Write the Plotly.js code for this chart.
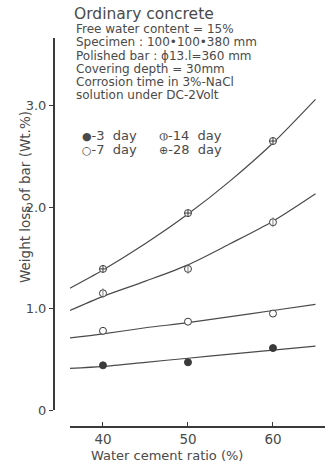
<!DOCTYPE html>
<html>
<head>
<meta charset="utf-8">
<script src="https://cdn.plot.ly/plotly-3.0.1.min.js"></script>
<style>html,body{margin:0;padding:0;background:#fff;}#chart{width:327px;height:463px;}</style>
</head>
<body>
<div id="chart"></div>
<script>
// Measured points
const waterCementRatio = [40, 50, 60];
const loss3day = [0.44, 0.47, 0.61];
const loss7day = [0.78, 0.87, 0.95];
const loss14day = [1.15, 1.39, 1.85];
const loss28day = [1.39, 1.94, 2.65];
// Fitted curves
const curveRatio = [36.1, 40, 45, 50, 55, 60, 65];
const curve3day = [0.41, 0.43, 0.47, 0.51, 0.55, 0.59, 0.63];
const curve7day = [0.71, 0.75, 0.81, 0.86, 0.92, 0.98, 1.04];
const curve14day = [0.98, 1.12, 1.27, 1.43, 1.64, 1.86, 2.13];
const curve28day = [1.20, 1.38, 1.64, 1.93, 2.26, 2.63, 3.06];
// Ticks
const xTickVals = [40, 50, 60];
const xTickText = ['40', '50', '60'];
const yTickVals = [0, 1, 2, 3];
const yTickText = ['0', '1.0', '2.0', '3.0'];
// Texts
const infoTitle = 'Ordinary concrete';
const infoLines = [
  'Free water content = 15%',
  'Specimen : 100•100•380 mm',
  'Polished bar : ϕ13.l=360 mm',
  'Covering depth = 30mm',
  'Corrosion time in 3%-NaCl',
  'solution under DC-2Volt'
];
const legendSymbols = ['●', '○', '⦶', '⊕'];
const legendLabels = ['-3  day', '-7  day', '-14  day', '-28  day'];
const xTitle = 'Water cement ratio (%)';
const yTitle = 'Weight loss of bar (Wt.%)';

const INK = '#3a3a3a';
const TXT = '#4a4a4a';
const FONT = 'DejaVu Sans, sans-serif';
const L = 53, T = 38, W = 272, H = 389;
const px = v => (v - L) / W;
const py = v => (T + H - v) / H;

const curveStyle = {color: '#4a4a4a', width: 1.2, shape: 'spline', smoothing: 0.8};
const mk = (sym, fill) => ({symbol: sym, size: 7, color: fill || INK, line: {color: INK, width: 1}});

const traces = [
  {x: curveRatio, y: curve3day, mode: 'lines', line: curveStyle, showlegend: false, hoverinfo: 'skip'},
  {x: curveRatio, y: curve7day, mode: 'lines', line: curveStyle, showlegend: false, hoverinfo: 'skip'},
  {x: curveRatio, y: curve14day, mode: 'lines', line: curveStyle, showlegend: false, hoverinfo: 'skip'},
  {x: curveRatio, y: curve28day, mode: 'lines', line: curveStyle, showlegend: false, hoverinfo: 'skip'},
  {x: waterCementRatio, y: loss3day, mode: 'markers', name: '3 day', marker: mk('circle'), showlegend: false},
  {x: waterCementRatio, y: loss7day, mode: 'markers', name: '7 day', marker: mk('circle', '#fff'), showlegend: false},
  {x: waterCementRatio, y: loss14day, mode: 'markers', name: '14 day', marker: mk('circle', '#fff'), showlegend: false},
  {x: waterCementRatio, y: loss14day, mode: 'markers', name: '14 day', marker: {symbol: 'line-ns-open', size: 7, line: {color: INK, width: 1}}, showlegend: false},
  {x: waterCementRatio, y: loss28day, mode: 'markers', name: '28 day', marker: {symbol: 'circle-cross', size: 7, color: '#fff', line: {color: INK, width: 1}}, showlegend: false}
];

const annotations = [];
annotations.push({xref: 'paper', yref: 'paper', x: px(72), y: py(14), xanchor: 'left', yanchor: 'middle',
  text: infoTitle, showarrow: false, font: {family: FONT, size: 15.5, color: TXT}});
const lineY = [29, 42, 56, 69, 82, 95];
infoLines.forEach((t, i) => annotations.push({xref: 'paper', yref: 'paper', x: px(74), y: py(lineY[i]),
  xanchor: 'left', yanchor: 'middle', text: t, showarrow: false, font: {family: FONT, size: 12, color: TXT}}));
const legPos = [[80, 135], [80, 149], [157, 135], [157, 149]];
legendLabels.forEach((t, i) => annotations.push({xref: 'paper', yref: 'paper', x: px(legPos[i][0]), y: py(legPos[i][1]),
  xanchor: 'left', yanchor: 'middle', text: '<span style="font-size:11px">' + legendSymbols[i] + '</span>' + t,
  showarrow: false, font: {family: FONT, size: 13, color: TXT}}));
annotations.push({xref: 'paper', yref: 'paper', x: px(167), y: py(455), xanchor: 'center', yanchor: 'middle',
  text: xTitle, showarrow: false, font: {family: FONT, size: 13, color: TXT}});
annotations.push({xref: 'paper', yref: 'paper', x: px(25), y: py(197), xanchor: 'center', yanchor: 'middle',
  text: yTitle, textangle: -90, showarrow: false, font: {family: FONT, size: 13.5, color: TXT}});

const layout = {
  width: 327, height: 463,
  margin: {l: L, r: 327 - L - W, t: T, b: 463 - T - H, pad: 0},
  paper_bgcolor: '#fff', plot_bgcolor: '#fff',
  showlegend: false,
  font: {family: FONT, color: TXT},
  xaxis: {
    domain: [px(70), 1], anchor: 'free', position: 0,
    range: [36.12, 66.12], tickvals: xTickVals, ticktext: xTickText,
    ticks: 'inside', ticklen: 4, tickcolor: INK, tickwidth: 1,
    showline: true, linecolor: INK, linewidth: 2, showgrid: false, zeroline: false,
    tickfont: {family: FONT, size: 13.5, color: TXT}
  },
  yaxis: {
    domain: [py(410), 1], anchor: 'free', position: 0,
    range: [0, 3.665], tickvals: yTickVals, ticktext: yTickText,
    ticks: 'outside', ticklen: 4, tickcolor: INK, tickwidth: 1,
    showline: true, linecolor: INK, linewidth: 1.5, showgrid: false, zeroline: false,
    tickfont: {family: FONT, size: 13, color: TXT}
  },
  annotations: annotations
};

Plotly.newPlot('chart', traces, layout, {staticPlot: true, displayModeBar: false});
</script>
</body>
</html>
